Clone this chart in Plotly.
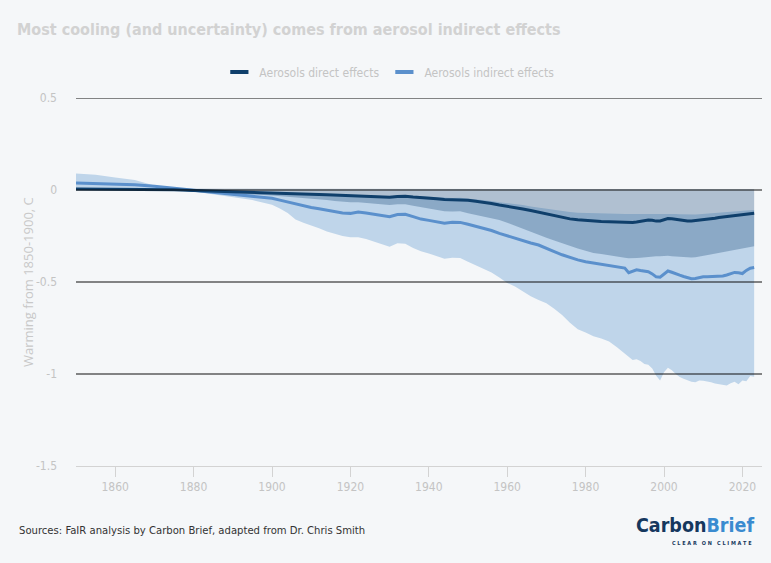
import plotly.graph_objects as go

# ---------------- data ----------------
years = ([1850, 1855, 1860, 1865, 1870, 1875, 1880, 1885, 1890, 1895, 1900]
         + list(range(1902, 1990, 2)) + list(range(1990, 2024)))

direct_mean = [0.005, 0.005, 0.005, 0.005, 0.004, 0.001, -0.003, -0.006, -0.009, -0.011, -0.014,
               -0.015, -0.016, -0.017, -0.019, -0.021, -0.024, -0.026, -0.028, -0.030, -0.031,
               -0.031, -0.033, -0.036, -0.039, -0.040, -0.035, -0.034, -0.038, -0.040, -0.043,
               -0.047, -0.052, -0.053, -0.051, -0.056, -0.061, -0.066, -0.073, -0.082, -0.088,
               -0.095, -0.103, -0.111, -0.121, -0.131, -0.141, -0.150, -0.157, -0.162, -0.166,
               -0.169, -0.171, -0.173, -0.175,
               -0.177, -0.178, -0.177, -0.174, -0.170, -0.166, -0.163, -0.165, -0.169, -0.168,
               -0.160, -0.155, -0.156, -0.160, -0.163, -0.166, -0.168, -0.169, -0.167, -0.163,
               -0.160, -0.158, -0.156, -0.154, -0.150, -0.147, -0.144, -0.141, -0.138, -0.135,
               -0.133, -0.130, -0.127, -0.126]

direct_hi = [0.008, 0.008, 0.008, 0.008, 0.007, 0.006, 0.005, 0.005, 0.004, 0.004, 0.004,
             0.004, 0.004, 0.004, 0.004, 0.004, 0.004, 0.004, 0.004, 0.004, 0.004,
             0.004, 0.004, 0.004, 0.004, 0.004, 0.004, 0.004, 0.004, 0.004, 0.004,
             0.004, 0.004, 0.004, 0.004, 0.004, 0.004, 0.004, 0.004, 0.004, 0.004,
             0.004, 0.004, 0.004, 0.004, 0.004, 0.004, 0.004, 0.004, 0.004, 0.004,
             0.004, 0.004, 0.004, 0.004,
             0.004, 0.004, 0.004, 0.004, 0.004, 0.004, 0.004, 0.004, 0.004, 0.004,
             0.004, 0.004, 0.004, 0.004, 0.004, 0.004, 0.004, 0.004, 0.004, 0.004,
             0.004, 0.004, 0.004, 0.004, 0.004, 0.004, 0.004, 0.004, 0.004, 0.004,
             0.004, 0.004, 0.004, 0.004]

direct_lo = [0.000, 0.000, 0.000, 0.000, -0.001, -0.003, -0.008, -0.012, -0.018, -0.024, -0.030,
             -0.033, -0.036, -0.039, -0.042, -0.046, -0.050, -0.055, -0.060, -0.064, -0.067,
             -0.067, -0.070, -0.074, -0.079, -0.082, -0.077, -0.078, -0.085, -0.092, -0.098,
             -0.105, -0.115, -0.117, -0.116, -0.126, -0.136, -0.145, -0.153, -0.163, -0.178,
             -0.195, -0.212, -0.228, -0.245, -0.260, -0.275, -0.290, -0.305, -0.318, -0.330,
             -0.342, -0.348, -0.356, -0.363,
             -0.368, -0.371, -0.372, -0.370, -0.368, -0.365, -0.362, -0.360, -0.360, -0.360,
             -0.358, -0.358, -0.360, -0.362, -0.364, -0.366, -0.367, -0.367, -0.366, -0.362,
             -0.358, -0.354, -0.350, -0.346, -0.342, -0.338, -0.333, -0.328, -0.323, -0.319,
             -0.315, -0.312, -0.308, -0.306]

indirect_mean = [0.038, 0.035, 0.032, 0.028, 0.021, 0.010, -0.005, -0.016, -0.027, -0.035, -0.045,
                 -0.055, -0.065, -0.077, -0.086, -0.095, -0.102, -0.110, -0.117, -0.125, -0.127,
                 -0.120, -0.125, -0.133, -0.140, -0.145, -0.133, -0.132, -0.145, -0.158, -0.165,
                 -0.172, -0.180, -0.175, -0.176, -0.186, -0.196, -0.206, -0.220, -0.236, -0.250,
                 -0.262, -0.274, -0.288, -0.299, -0.315, -0.335, -0.352, -0.368, -0.380, -0.390,
                 -0.397, -0.401, -0.408, -0.416,
                 -0.424, -0.449, -0.440, -0.434, -0.438, -0.441, -0.444, -0.456, -0.472, -0.474,
                 -0.455, -0.440, -0.447, -0.457, -0.463, -0.470, -0.476, -0.482, -0.481, -0.475,
                 -0.472, -0.471, -0.471, -0.469, -0.468, -0.467, -0.462, -0.457, -0.448, -0.450,
                 -0.454, -0.437, -0.425, -0.421]

indirect_hi = [0.090, 0.083, 0.068, 0.055, 0.025, 0.008, -0.002, -0.005, -0.008, -0.010, -0.012,
               -0.013, -0.014, -0.015, -0.016, -0.018, -0.020, -0.022, -0.024, -0.025, -0.026,
               -0.026, -0.028, -0.030, -0.033, -0.034, -0.030, -0.029, -0.032, -0.034, -0.036,
               -0.039, -0.043, -0.044, -0.042, -0.046, -0.050, -0.054, -0.060, -0.067, -0.071,
               -0.076, -0.082, -0.089, -0.096, -0.103, -0.110, -0.116, -0.120, -0.123, -0.125,
               -0.126, -0.127, -0.128, -0.129,
               -0.130, -0.131, -0.131, -0.130, -0.130, -0.130, -0.129, -0.130, -0.131, -0.131,
               -0.130, -0.129, -0.130, -0.131, -0.132, -0.133, -0.134, -0.134, -0.133, -0.132,
               -0.130, -0.128, -0.126, -0.124, -0.122, -0.120, -0.118, -0.116, -0.114, -0.113,
               -0.112, -0.111, -0.110, -0.109]

indirect_lo = [0.000, 0.000, 0.002, 0.003, 0.003, 0.000, -0.008, -0.025, -0.040, -0.055, -0.080,
               -0.100, -0.125, -0.160, -0.178, -0.192, -0.208, -0.225, -0.238, -0.250, -0.257,
               -0.257, -0.266, -0.280, -0.295, -0.308, -0.290, -0.292, -0.315, -0.333, -0.345,
               -0.358, -0.373, -0.368, -0.370, -0.390, -0.410, -0.428, -0.448, -0.476, -0.505,
               -0.525, -0.553, -0.577, -0.598, -0.616, -0.645, -0.680, -0.722, -0.757, -0.775,
               -0.795, -0.807, -0.824, -0.855,
               -0.890, -0.906, -0.924, -0.920, -0.930, -0.946, -0.950, -0.970, -1.010, -1.036,
               -0.990, -0.966, -0.980, -1.000, -1.016, -1.026, -1.034, -1.042, -1.045, -1.036,
               -1.037, -1.040, -1.045, -1.051, -1.055, -1.060, -1.062, -1.050, -1.042, -1.056,
               -1.035, -1.040, -1.011, -1.015]

y_ticks = [0.5, 0, -0.5, -1, -1.5]
y_tick_labels = ["0.5", "0", "-0.5", "-1", "-1.5"]
x_ticks = [1860, 1880, 1900, 1920, 1940, 1960, 1980, 2000, 2020]

series_names = ["Aerosols direct effects", "Aerosols indirect effects"]

# ---------------- style ----------------
BG = "#f5f7f9"
NAVY = "#0f3f6b"
BLUE = "#5b90cc"
LIGHT_BAND = "#bfd5ea"
DIRECT_BAND = "rgba(22,72,118,0.31)"
NARROW = "DejaVu Sans Condensed, Liberation Sans Narrow, sans-serif"
GREY_TXT = "#c4c4c4"

fig = go.Figure()

# indirect uncertainty band
fig.add_trace(go.Scatter(x=years, y=indirect_hi, mode="lines", line=dict(width=0),
                         showlegend=False, hoverinfo="skip"))
fig.add_trace(go.Scatter(x=years, y=indirect_lo, mode="lines", line=dict(width=0),
                         fill="tonexty", fillcolor=LIGHT_BAND, showlegend=False, hoverinfo="skip"))
# direct uncertainty band
fig.add_trace(go.Scatter(x=years, y=direct_hi, mode="lines", line=dict(width=0),
                         showlegend=False, hoverinfo="skip"))
fig.add_trace(go.Scatter(x=years, y=direct_lo, mode="lines", line=dict(width=0),
                         fill="tonexty", fillcolor=DIRECT_BAND, showlegend=False, hoverinfo="skip"))
# central lines
fig.add_trace(go.Scatter(x=years, y=indirect_mean, mode="lines", line=dict(color=BLUE, width=3),
                         name=series_names[1], showlegend=False))
fig.add_trace(go.Scatter(x=years, y=direct_mean, mode="lines", line=dict(color=NAVY, width=3),
                         name=series_names[0], showlegend=False))

# legend entries
for name, col in zip(series_names, [NAVY, BLUE]):
    fig.add_trace(go.Scatter(x=[None], y=[None], mode="markers", name=name,
                             marker=dict(symbol="line-ew", size=13, color=col,
                                         line=dict(width=4, color=col))))

# gridlines drawn above the bands
shapes = []
for v in y_ticks:
    if v == min(y_ticks):
        continue
    shapes.append(dict(type="line", xref="paper", x0=0, x1=1, yref="y", y0=v, y1=v,
                       line=dict(color="#111111", width=1.2), layer="above"))

fig.update_layout(
    width=771, height=563,
    paper_bgcolor=BG, plot_bgcolor=BG,
    margin=dict(l=76, r=9, t=98, b=97),
    shapes=shapes,
    title=dict(text="<b>Most cooling (and uncertainty) comes from aerosol indirect effects</b>",
               xref="container", x=17 / 771, xanchor="left",
               yref="container", y=1 - 29 / 563, yanchor="middle",
               font=dict(family=NARROW, size=16, color="#d2d2d2")),
    legend=dict(orientation="h", xref="container", x=0.505, xanchor="center",
                yref="container", y=1 - 72 / 563, yanchor="middle",
                traceorder="normal",
                font=dict(family=NARROW, size=12, color=GREY_TXT),
                itemwidth=30, bgcolor="rgba(0,0,0,0)"),
    xaxis=dict(range=[1850, 2025], tickvals=x_ticks, showgrid=False, zeroline=False,
               automargin=False,
               showline=True, linecolor="#d3d3d3", linewidth=1,
               ticks="outside", ticklen=10, tickcolor="#d3d3d3",
               tickfont=dict(family=NARROW, size=12, color=GREY_TXT)),
    yaxis=dict(range=[-1.5, 0.5], tickvals=y_ticks, ticktext=y_tick_labels,
               showgrid=False, zeroline=False, ticks="", ticklabelstandoff=18,
               automargin=False,
               tickfont=dict(family=NARROW, size=12, color=GREY_TXT)),
    annotations=[
        dict(text="Warming from 1850-1900, C", textangle=-90, xref="paper", yref="paper",
             x=(28 - 76) / 686, y=0.5, xanchor="center", yanchor="middle", showarrow=False,
             font=dict(family="Open Sans, sans-serif", size=13, color="#c8c8c8")),
        dict(text="Sources: FaIR analysis by Carbon Brief, adapted from Dr. Chris Smith",
             xref="paper", yref="paper", x=(17 - 76) / 686, y=(466 - 530) / 368,
             xanchor="left", yanchor="middle", showarrow=False,
             font=dict(family=NARROW, size=11.2, color="#333333")),
        dict(text="<b><span style='color:#15375e'>Carbon</span><span style='color:#3a8bd0'>Brief</span></b>",
             xref="paper", yref="paper", x=(756 - 76) / 686, y=(466 - 525) / 368,
             xanchor="right", yanchor="middle", showarrow=False,
             font=dict(family=NARROW, size=19.5, color="#15375e")),
        dict(text="<b>C L E A R   O N   C L I M A T E</b>",
             xref="paper", yref="paper", x=(754 - 76) / 686, y=(466 - 543) / 368,
             xanchor="right", yanchor="middle", showarrow=False,
             font=dict(family=NARROW, size=5.5, color="#15375e")),
    ],
)

fig.write_html(
    "out.html",
    config={"displayModeBar": False},
    post_script="document.body.style.margin='0';document.body.style.background='%s';" % BG,
)
